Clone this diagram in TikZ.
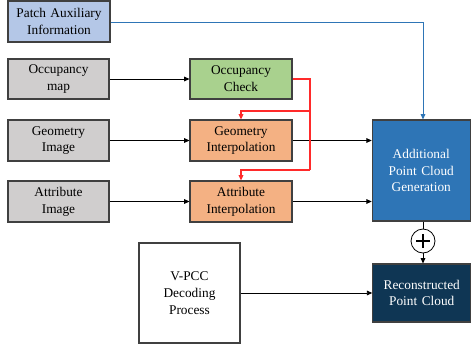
\documentclass[tikz,border=0pt]{standalone}
\usepackage{fontspec}
\setmainfont{Liberation Serif}
\usetikzlibrary{arrows.meta}
\definecolor{cBlueL}{HTML}{B4C7E7}
\definecolor{cGray}{HTML}{D0CECE}
\definecolor{cGreen}{HTML}{A9D18E}
\definecolor{cOrange}{HTML}{F4B183}
\definecolor{cBlue}{HTML}{2E75B6}
\definecolor{cNavy}{HTML}{0F3654}
\definecolor{cRed}{HTML}{FF2A2A}
\definecolor{cLine}{HTML}{2E75B6}
\begin{document}
\begin{tikzpicture}[x=0.75pt,y=-0.75pt,
  box/.style={draw=black!75,line width=0.8pt,rectangle,inner sep=0pt,align=center,
    font=\rmfamily\fontsize{10}{12.6}\selectfont,text width=#1*0.75pt},
  box/.default=100,
  conn/.style={line width=0.6pt,-{Triangle[length=4pt,width=3.5pt]}},
  redc/.style={draw=cRed,line width=0.9pt},
  redarr/.style={redc,-{Triangle[length=4pt,width=3.5pt]}},
]
\useasboundingbox (0,0) rectangle (471,347);
\node[box=102,fill=cBlueL,minimum width=102*0.75pt,minimum height=41*0.75pt] (pai) at (59,21.5) {Patch Auxiliary\\Information};
\node[box=101,fill=cGray,minimum width=101*0.75pt,minimum height=40*0.75pt] (om) at (58.5,79) {Occupancy\\map};
\node[box=101,fill=cGray,minimum width=101*0.75pt,minimum height=41*0.75pt] (gi) at (58.5,140.5) {Geometry\\Image};
\node[box=101,fill=cGray,minimum width=101*0.75pt,minimum height=41*0.75pt] (ai) at (58.5,201.5) {Attribute\\Image};
\node[box=102,fill=cGreen,minimum width=102*0.75pt,minimum height=40*0.75pt] (oc) at (241,79) {Occupancy\\Check};
\node[box=102,fill=cOrange,minimum width=102*0.75pt,minimum height=41*0.75pt] (gint) at (241,140.5) {Geometry\\Interpolation};
\node[box=102,fill=cOrange,minimum width=102*0.75pt,minimum height=41*0.75pt] (aint) at (241,201.5) {Attribute\\Interpolation};
\node[box=101,fill=white,minimum width=101*0.75pt,minimum height=100*0.75pt] (vpcc) at (189.5,293) {V-PCC\\Decoding\\Process};
\node[box=98,fill=cBlue,text=white,minimum width=98*0.75pt,minimum height=101*0.75pt] (apcg) at (421.25,170.5) {Additional\\Point Cloud\\Generation};
\node[box=98,fill=cNavy,text=white,minimum width=98*0.75pt,minimum height=58*0.75pt] (rpc) at (421.75,293) {Reconstructed\\Point Cloud};
\node[draw=black,line width=0.6pt,circle,minimum size=24*0.75pt,inner sep=0pt] (plus) at (423,241) {};
\draw[line width=0.9pt] ([xshift=-5pt]plus.center) -- ([xshift=5pt]plus.center)
  ([yshift=-5pt]plus.center) -- ([yshift=5pt]plus.center);
% connectors
\draw[conn,draw=cLine,-{Triangle[length=4pt,width=3.5pt]}] (pai.east |- 0,22) -| (apcg.north -| 423,0);
\draw[conn] (om.east) -- (oc.west);
\draw[conn] (gi.east) -- (gint.west);
\draw[conn] (ai.east) -- (aint.west);
\draw[conn] (gint.east) -- (apcg.west |- gint.east);
\draw[conn] (aint.east) -- (apcg.west |- aint.east);
\draw[conn] (vpcc.east) -- (rpc.west |- vpcc.east);
\coordinate (rc) at (310,111);
\coordinate (rd) at (310,170);
\draw[redc] (oc.east) -| (rd);
\draw[redarr] (rc) -| (gint.north);
\draw[redarr] (rd) -| (aint.north);
\draw[line width=0.6pt] (apcg.south -| plus.north) -- (plus.north);
\draw[conn] (plus.south) -- (rpc.north -| plus.south);
\end{tikzpicture}
\end{document}
